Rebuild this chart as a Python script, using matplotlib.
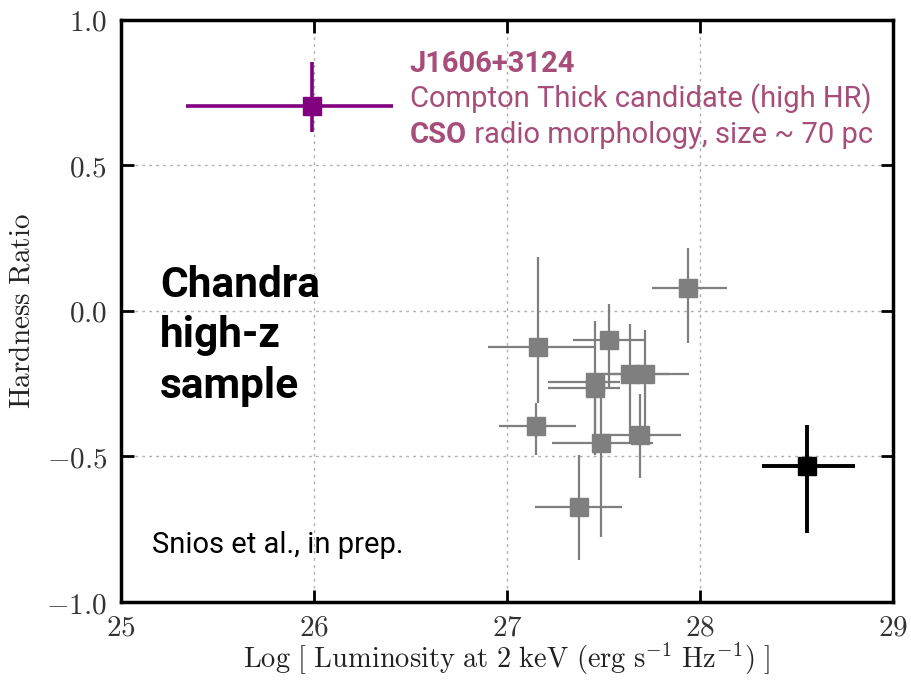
import matplotlib
matplotlib.use("Agg")
import matplotlib.pyplot as plt

plt.rcParams['mathtext.fontset'] = 'cm'

# gray points: Chandra high-z sample
gx = [27.94, 27.16, 27.53, 27.455, 27.455, 27.64, 27.715, 27.15, 27.485, 27.69, 27.375]
gy = [0.08, -0.125, -0.10, -0.245, -0.265, -0.215, -0.215, -0.395, -0.455, -0.425, -0.675]
gx_lo = [0.19, 0.26, 0.19, 0.24, 0.24, 0.14, 0.2, 0.19, 0.25, 0.19, 0.23]
gx_hi = [0.2, 0.29, 0.18, 0.13, 0.13, 0.2, 0.23, 0.21, 0.27, 0.21, 0.22]
gy_lo = [0.19, 0.19, 0.16, 0.25, 0.23, 0.24, 0.21, 0.10, 0.32, 0.15, 0.18]
gy_hi = [0.135, 0.31, 0.125, 0.21, 0.0, 0.17, 0.15, 0.08, 0.19, 0.14, 0.18]

# J1606+3124
px, py = [25.988], [0.704]
px_lo, px_hi = [0.65], [0.42]
py_lo, py_hi = [0.09], [0.15]

# black point
bx, by = [28.553], [-0.532]
bx_lo, bx_hi = [0.23], [0.25]
by_lo, by_hi = [0.23], [0.14]

xticks = [25, 26, 27, 28, 29]
yticks = [-1.0, -0.5, 0.0, 0.5, 1.0]
xticklabels = ['$25$', '$26$', '$27$', '$28$', '$29$']
yticklabels = ['$-1.0$', '$-0.5$', '$0.0$', '$0.5$', '$1.0$']

fig = plt.figure(figsize=(9.12, 6.82), dpi=100)
ax = fig.add_axes([0.1327, 0.1173, 0.8464, 0.8534])

ax.errorbar(gx, gy, xerr=[gx_lo, gx_hi], yerr=[gy_lo, gy_hi], fmt='s', color='#7f7f7f',
            ms=13, mec='#7f7f7f', elinewidth=1.6, capsize=0, zorder=3)
ax.errorbar(px, py, xerr=[px_lo, px_hi], yerr=[py_lo, py_hi], fmt='s', color='#800080',
            ms=13, elinewidth=2.6, capsize=0, zorder=4)
ax.errorbar(bx, by, xerr=[bx_lo, bx_hi], yerr=[by_lo, by_hi], fmt='s', color='black',
            ms=13, elinewidth=2.8, capsize=0, zorder=4)

ax.set_xlim(25, 29)
ax.set_ylim(-1, 1)
ax.set_xticks(xticks)
ax.set_xticklabels(xticklabels, fontsize=21, color='#333333')
ax.set_yticks(yticks)
ax.set_yticklabels(yticklabels, fontsize=21, color='#333333')
ax.tick_params(direction='in', length=9, width=2, top=True, right=True, pad=10)
ax.tick_params(axis='x', pad=8)
ax.grid(True, color='#b0b0b0', linestyle=(0, (2, 3)), linewidth=1)
for s in ax.spines.values():
    s.set_linewidth(2.5)

ax.set_xlabel(r'$\mathrm{Log\ [\ Luminosity\ at\ 2\ keV\ (erg\ s^{-1}\ Hz^{-1})\ ]}$', fontsize=20.5,
              labelpad=0, color='#222222')
ax.set_ylabel(r'$\mathrm{Hardness\ Ratio}$', fontsize=21, labelpad=8, color='#222222')

rose = '#a64d79'
ax.text(0.374, 0.911, 'J1606+3124', transform=ax.transAxes, family='Roboto', weight='bold',
        fontsize=21, color=rose, va='baseline')
ax.text(0.374, 0.850, 'Compton Thick candidate (high HR)', transform=ax.transAxes, family='Roboto',
        fontsize=21, color=rose, va='baseline')
t = ax.text(0.374, 0.788, 'CSO', transform=ax.transAxes, family='Roboto', weight='bold',
            fontsize=21, color=rose, va='baseline')
ax.annotate(' radio morphology, size ~ 70 pc', xy=(1, 0), xycoords=t, family='Roboto',
            fontsize=21, color=rose, va='bottom', ha='left')

for line, yb in zip(['Chandra', 'high-z', 'sample'], [0.5246, 0.4387, 0.3500]):
    ax.text(0.0505, yb, line, transform=ax.transAxes, family='Roboto',
            weight='bold', fontsize=30.5, va='baseline')
ax.text(0.040, 0.0847, 'Snios et al., in prep.', transform=ax.transAxes, family='Roboto',
        fontsize=21, va='baseline')

fig.savefig('out.png', dpi=100)
